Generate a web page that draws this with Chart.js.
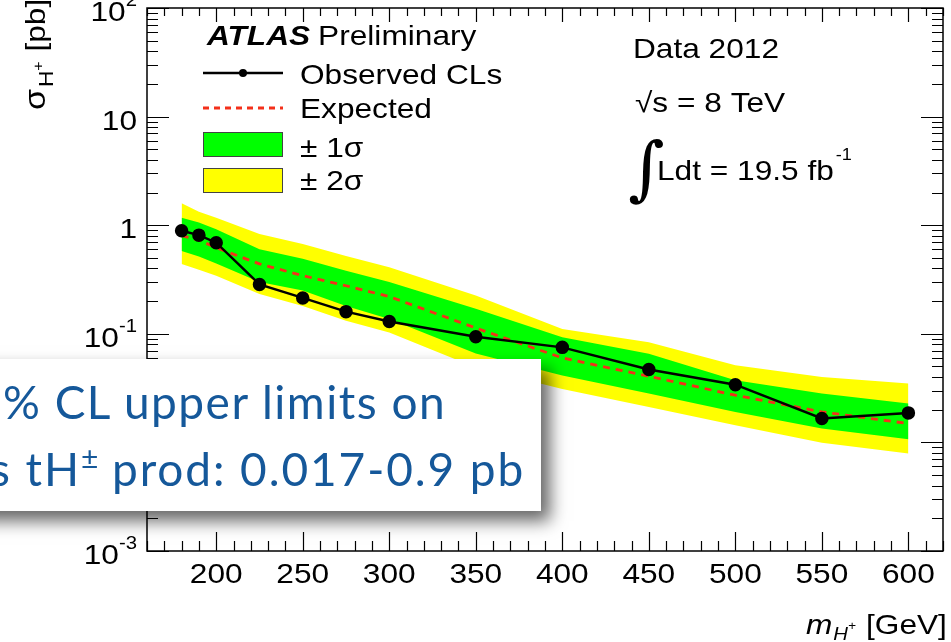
<!DOCTYPE html>
<html>
<head>
<meta charset="utf-8">
<script src="https://cdn.jsdelivr.net/npm/chart.js@4.4.1/dist/chart.umd.min.js"></script>
<style>
  html, body { margin: 0; padding: 0; background: #fff; }
  #wrap { position: relative; width: 951px; height: 642px; overflow: hidden; }
  #limits { position: absolute; left: 0; top: 0; }
  .callout {
    position: absolute; left: -40px; top: 359px; width: 581px; height: 152px;
    background: #fff; box-shadow: 9px 10px 16px rgba(0, 0, 0, 0.6);
    font-family: Lato, "Open Sans", sans-serif; color: #15589a; font-size: 46px;
    letter-spacing: 1.5px;
  }
  .callout span { position: absolute; white-space: nowrap; line-height: 46px; }
  .callout .second { letter-spacing: 1.9px; }
  .callout sup { font-size: 30px; vertical-align: 17px; line-height: 0; letter-spacing: 0; }
</style>
</head>
<body>
<div id="wrap">
  <canvas id="limits" width="951" height="642"></canvas>
  <div class="callout">
    <span style="left: 43px; top: 20px;">% CL upper limits on</span>
    <span class="second" style="left: 30px; top: 87px;">s tH<sup>&plusmn;</sup> prod: 0.017-0.9 pb</span>
  </div>
</div>
<script>
// charged Higgs mass points [GeV] and 95% CL limits on sigma [pb]
const masses   = [180, 190, 200, 225, 250, 275, 300, 350, 400, 450, 500, 550, 600];
const observed = [0.89, 0.81, 0.69, 0.285, 0.214, 0.160, 0.130, 0.094, 0.075, 0.047, 0.034, 0.0166, 0.0187];
const expected = [0.80, 0.73, 0.62, 0.44, 0.343, 0.277, 0.22, 0.113, 0.060, 0.0406, 0.0272, 0.0191, 0.0149];
const band1Up  = [1.17, 1.06, 0.92, 0.60, 0.49, 0.38, 0.30, 0.17, 0.093, 0.0656, 0.0373, 0.0282, 0.0228];
const band1Dn  = [0.58, 0.515, 0.445, 0.30, 0.25, 0.18, 0.137, 0.066, 0.0414, 0.0282, 0.0191, 0.0134, 0.0107];
const band2Up  = [1.59, 1.33, 1.17, 0.83, 0.67, 0.52, 0.41, 0.225, 0.111, 0.0837, 0.0512, 0.040, 0.0348];
const band2Dn  = [0.44, 0.389, 0.343, 0.233, 0.18, 0.132, 0.103, 0.049, 0.031, 0.0212, 0.0144, 0.0099, 0.0079];

const yLabels = [[0.001, '10', '-3'], [0.01, '10', '-2'], [0.1, '10', '-1'], [1, '1', ''], [10, '10', ''], [100, '10', '2']];

const SX = 1.13; // ROOT text comes out a bit wide
const FONT = '"Liberation Sans", Arial, sans-serif';

const pts = ys => masses.map((m, i) => ({ x: m, y: ys[i] }));

function txt(ctx, s, x, y, size, opts = {}) {
  ctx.save();
  ctx.font = (opts.style || '') + ' ' + size + 'px ' + FONT;
  ctx.fillStyle = opts.color || '#000';
  ctx.textAlign = opts.align || 'left';
  ctx.textBaseline = 'alphabetic';
  ctx.translate(x, y);
  ctx.scale(SX, 1);
  ctx.fillText(s, 0, 0);
  const w = ctx.measureText(s).width * SX;
  ctx.restore();
  return w;
}

const rootFrame = {
  id: 'rootFrame',
  afterDraw(chart) {
    const ctx = chart.ctx;
    const a = chart.chartArea;
    const xs = chart.scales.x;
    const ys = chart.scales.y;

    ctx.save();
    ctx.strokeStyle = '#000';
    ctx.lineWidth = 1.5;
    ctx.strokeRect(a.left, a.top, a.right - a.left, a.bottom - a.top);

    // tick marks on all four sides
    ctx.lineWidth = 1.2;
    ctx.beginPath();
    for (let v = 160; v <= 620; v += 10) {
      const px = Math.round(xs.getPixelForValue(v)) + 0.5;
      const major = v % 50 === 0;
      ctx.moveTo(px, a.bottom); ctx.lineTo(px, a.bottom - (major ? 19 : 10));
      ctx.moveTo(px, a.top); ctx.lineTo(px, a.top + (major ? 14 : 8));
    }
    for (let d = -3; d <= 2; d++) {
      for (let k = 1; k <= 9; k++) {
        const v = k * Math.pow(10, d);
        if (v > 100) break;
        const py = Math.round(ys.getPixelForValue(v)) + 0.5;
        const len = k === 1 ? 22 : 11;
        ctx.moveTo(a.left, py); ctx.lineTo(a.left + len, py);
        ctx.moveTo(a.right, py); ctx.lineTo(a.right - len, py);
      }
    }
    ctx.stroke();
    ctx.restore();

    // x tick labels
    xs.ticks.forEach(t => {
      txt(ctx, String(t.value), xs.getPixelForValue(t.value), a.bottom + 32, 28, { align: 'center' });
    });

    // y tick labels with exponents
    yLabels.forEach(([v, base, exp]) => {
      const py = ys.getPixelForValue(v);
      let right = 137;
      if (exp) {
        const w = txt(ctx, exp, right, py - 2, 18, { align: 'right' });
        right -= w;
      }
      txt(ctx, base, right, py + 13, 28, { align: 'right' });
    });

    // axis titles
    ctx.save();
    ctx.translate(45, 110);
    ctx.rotate(-Math.PI / 2);
    let off = 0;
    off += txt(ctx, '\u03c3', off, 0, 30);
    off += txt(ctx, 'H', off + 2, 8, 20);
    off += txt(ctx, '+', off + 2, -2, 14);
    txt(ctx, '[pb]', off + 12, 0, 28);
    ctx.restore();

    let xx = 806;
    xx += txt(ctx, 'm', xx, 634, 28, { style: 'italic' });
    xx += txt(ctx, 'H', xx + 1, 640, 18, { style: 'italic' });
    txt(ctx, '+', xx + 1, 630, 12, { style: 'italic' });
    txt(ctx, '[GeV]', 866, 634, 28);

    // legend
    const wA = txt(ctx, 'ATLAS', 207, 45, 28, { style: 'italic bold' });
    txt(ctx, 'Preliminary', 207 + wA + 8, 45, 28);

    const obs = chart.data.datasets[0];
    const exp = chart.data.datasets[1];
    ctx.save();
    ctx.strokeStyle = obs.borderColor;
    ctx.lineWidth = obs.borderWidth;
    ctx.beginPath(); ctx.moveTo(203, 73); ctx.lineTo(283, 73); ctx.stroke();
    ctx.fillStyle = obs.pointBackgroundColor;
    ctx.beginPath(); ctx.arc(243, 73, 4, 0, Math.PI * 2); ctx.fill();
    ctx.strokeStyle = exp.borderColor;
    ctx.lineWidth = exp.borderWidth;
    ctx.setLineDash([6, 5]);
    ctx.beginPath(); ctx.moveTo(203, 108); ctx.lineTo(283, 108); ctx.stroke();
    ctx.setLineDash([]);
    ctx.lineWidth = 1;
    ctx.strokeStyle = '#444';
    ctx.fillStyle = chart.data.datasets[2].backgroundColor;
    ctx.fillRect(203, 132, 80, 25); ctx.strokeRect(203.5, 132.5, 79, 24);
    ctx.fillStyle = chart.data.datasets[4].backgroundColor;
    ctx.fillRect(203, 168, 80, 25); ctx.strokeRect(203.5, 168.5, 79, 24);
    ctx.restore();

    txt(ctx, 'Observed CLs', 300, 84, 28);
    txt(ctx, 'Expected', 300, 118, 28);
    txt(ctx, '\u00b1 1\u03c3', 300, 157, 28);
    txt(ctx, '\u00b1 2\u03c3', 300, 190, 28);

    // dataset info
    txt(ctx, 'Data 2012', 633, 58, 28);
    txt(ctx, '\u221as = 8 TeV', 635, 112, 28);
    ctx.save();
    ctx.font = '70px "DejaVu Serif", serif';
    ctx.fillStyle = '#000';
    ctx.fillText('\u222b', 628, 192);
    ctx.restore();
    const wL = txt(ctx, 'Ldt = 19.5 fb', 657, 180, 28);
    txt(ctx, '-1', 657 + wL + 2, 160, 16);
  }
};

new Chart(document.getElementById('limits'), {
  type: 'line',
  data: {
    datasets: [
      { label: 'Observed CLs', data: pts(observed), borderColor: '#000', backgroundColor: '#000',
        pointBackgroundColor: '#000', pointBorderColor: '#000', borderWidth: 2.5, pointRadius: 5.5, fill: false },
      { label: 'Expected', data: pts(expected), borderColor: '#f4301a', borderWidth: 2.8,
        borderDash: [7, 6], pointRadius: 0, fill: false },
      { label: '\u00b1 1\u03c3', data: pts(band1Up), borderColor: 'rgba(0,0,0,0)', borderWidth: 0,
        backgroundColor: '#00ff00', pointRadius: 0, fill: '+1' },
      { label: '-1\u03c3', data: pts(band1Dn), borderColor: 'rgba(0,0,0,0)', borderWidth: 0,
        pointRadius: 0, fill: false },
      { label: '\u00b1 2\u03c3', data: pts(band2Up), borderColor: 'rgba(0,0,0,0)', borderWidth: 0,
        backgroundColor: '#ffff00', pointRadius: 0, fill: '+1' },
      { label: '-2\u03c3', data: pts(band2Dn), borderColor: 'rgba(0,0,0,0)', borderWidth: 0,
        pointRadius: 0, fill: false }
    ]
  },
  options: {
    responsive: false,
    animation: false,
    layout: { padding: { top: 6, right: 5, left: 0, bottom: 0 } },
    elements: { line: { tension: 0 } },
    scales: {
      x: {
        type: 'linear', min: 160, max: 620,
        grid: { display: false, drawTicks: false },
        border: { display: false },
        ticks: { display: false, stepSize: 50, includeBounds: false },
        afterFit: s => { s.height = 91; }
      },
      y: {
        type: 'logarithmic', min: 0.001, max: 100,
        grid: { display: false, drawTicks: false },
        border: { display: false },
        ticks: { display: false },
        afterFit: s => { s.width = 147; }
      }
    },
    plugins: {
      legend: { display: false },
      title: { display: false },
      tooltip: { enabled: false }
    }
  },
  plugins: [rootFrame]
});
</script>
</body>
</html>
